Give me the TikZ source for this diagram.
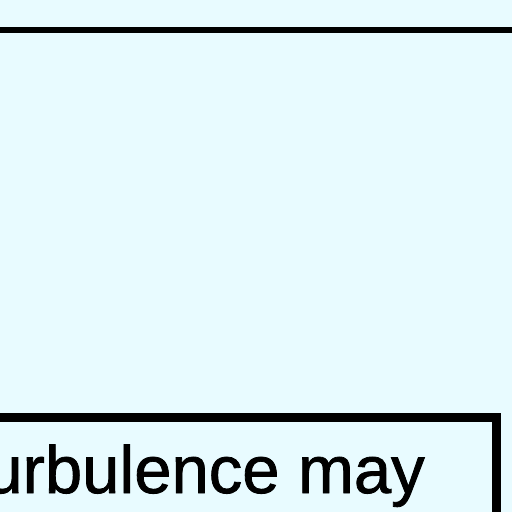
\documentclass[tikz,border=0pt]{standalone}
\usepackage{fontspec}
\setmainfont{Liberation Sans}
\newfontfamily\boldish[FakeBold=1.2]{Liberation Sans}
\definecolor{bgcyan}{RGB}{232,251,255}
\begin{document}
\begin{tikzpicture}[x=1pt,y=1pt,
  frame/.style={draw=black,line cap=rect},
  label/.style={font=\boldish\fontsize{67}{80}\selectfont,inner sep=0pt,anchor=base east,text=black}]
\useasboundingbox (0,0) rectangle (512,512);
\fill[bgcyan] (0,0) rectangle (512,512);
% top line (lower edge of the box above)
\coordinate (tl) at (-10,482);
\coordinate (tr) at (522,482);
\draw[frame,line width=6pt] (tl) -- (tr);
% lower box
\coordinate (bl) at (-20,94);
\coordinate (tcorner) at (496,94);
\coordinate (br) at (496,-20);
\draw[frame,line width=9pt,line join=miter] (bl) -- (tcorner) -- (br);
\node[label] (txt) at (425,19) {urbulence may};
\end{tikzpicture}
\end{document}
